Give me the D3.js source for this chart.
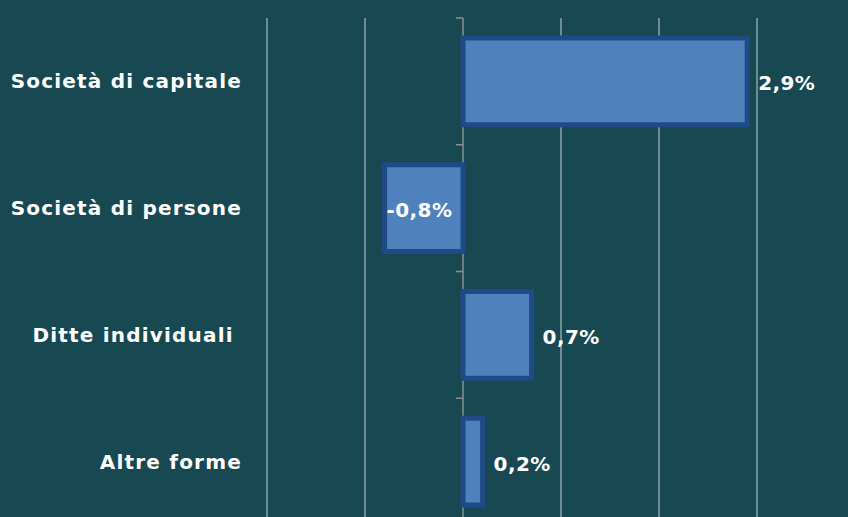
<!DOCTYPE html>
<html>
<head>
<meta charset="utf-8">
<script src="https://cdn.jsdelivr.net/npm/d3@7"></script>
<style>
  html, body { margin: 0; padding: 0; background: #184852; overflow: hidden; }
</style>
</head>
<body>
<div id="chart"></div>
<script>
const categories = ["Società di capitale", "Società di persone", "Ditte individuali ", "Altre forme"];
const values = [2.9, -0.8, 0.7, 0.2];
const valueLabels = ["2,9%", "-0,8%", "0,7%", "0,2%"];
const gridTicks = [-2, -1, 1, 2, 3];

const width = 848;
const height = 517;

const x = d3.scaleLinear().domain([-2, 3]).range([267, 757]);
const y = d3.scaleBand().domain(categories).range([18, 525]).padding(0);

const svg = d3.select("#chart")
  .append("svg")
  .attr("width", width)
  .attr("height", height)
  .style("font-family", "'DejaVu Sans', sans-serif");

svg.append("rect")
  .attr("width", width)
  .attr("height", height)
  .attr("fill", "#184852");

// vertical gridlines
svg.append("g")
  .selectAll("line")
  .data(gridTicks)
  .join("line")
  .attr("x1", d => x(d))
  .attr("x2", d => x(d))
  .attr("y1", 18)
  .attr("y2", height + 10)
  .attr("stroke", "#9fb3ba")
  .attr("stroke-width", 1.3);

// category axis at zero
const axis = svg.append("g")
  .attr("transform", `translate(${x(0)},0)`)
  .call(d3.axisLeft(y).tickSize(0).tickFormat(""));
axis.select(".domain").remove();
axis.append("line")
  .attr("y1", 18).attr("y2", height + 10)
  .attr("stroke", "#8a8f92").attr("stroke-width", 1.5);
const bounds = categories.map(c => y(c)).concat([y.range()[1]]);
axis.selectAll(".bound")
  .data(bounds)
  .join("line")
  .attr("class", "bound")
  .attr("x1", -7).attr("x2", 0)
  .attr("y1", d => d).attr("y2", d => d)
  .attr("stroke", "#8a8f92").attr("stroke-width", 1.5);

// bars
const barH = y.bandwidth() * 0.685;
svg.append("g")
  .selectAll("rect")
  .data(values)
  .join("rect")
  .attr("x", d => x(Math.min(0, d)))
  .attr("width", d => Math.abs(x(d) - x(0)))
  .attr("y", (d, i) => y(categories[i]) + (y.bandwidth() - barH) / 2)
  .attr("height", barH)
  .attr("fill", "#4f81bd")
  .attr("stroke", "#1f4a85")
  .attr("stroke-width", 5);

// category labels
svg.append("g")
  .selectAll("text")
  .data(categories)
  .join("text")
  .attr("x", 242)
  .attr("y", d => y(d) + y.bandwidth() / 2)
  .attr("dy", "0.35em")
  .attr("text-anchor", "end")
  .attr("fill", "#ffffff")
  .attr("font-weight", "bold")
  .attr("font-size", 20)
  .attr("letter-spacing", 1.2)
  .style("white-space", "pre")
  .text(d => d);

// value labels
svg.append("g")
  .selectAll("text")
  .data(values)
  .join("text")
  .attr("x", d => d < 0 ? x(d) + 2 : x(d) + 11)
  .attr("y", (d, i) => y(categories[i]) + y.bandwidth() / 2 + 2)
  .attr("dy", "0.35em")
  .attr("text-anchor", "start")
  .attr("fill", "#ffffff")
  .attr("font-weight", "bold")
  .attr("font-size", 20)
  .attr("letter-spacing", 0.4)
  .text((d, i) => valueLabels[i]);
</script>
</body>
</html>
